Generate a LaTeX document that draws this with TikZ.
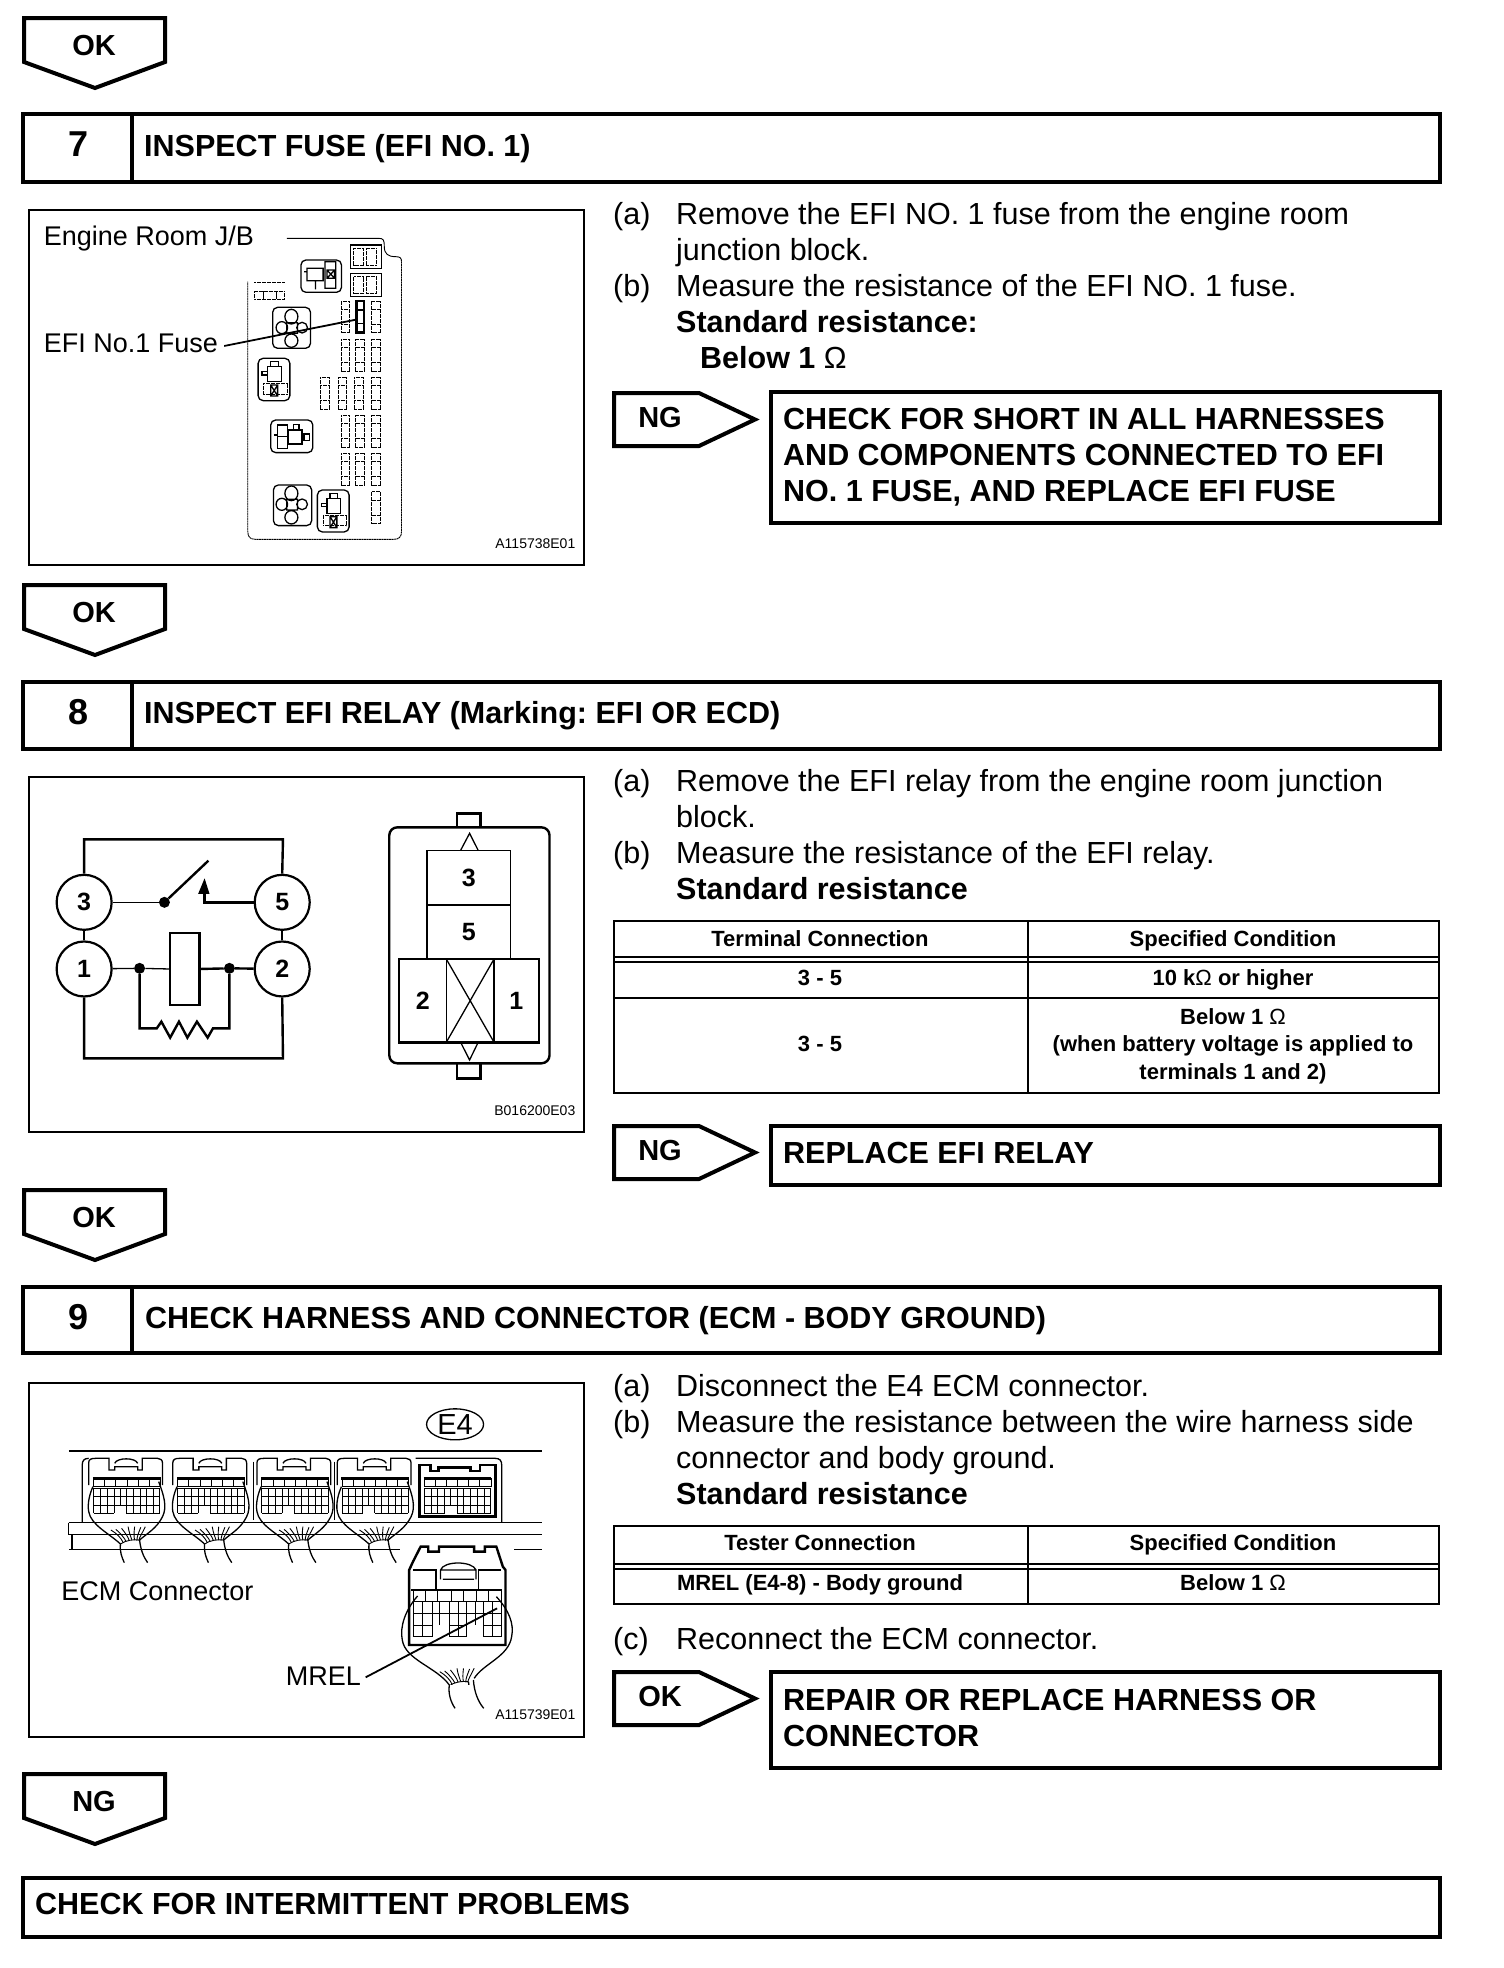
\documentclass[tikz,border=0pt]{standalone}
\usepackage{fontspec}
\setmainfont{Liberation Sans}
\usetikzlibrary{shapes.geometric}
\newcommand\bodyf{\frenchspacing\fontsize{30.5}{36.4}\selectfont}
\newcommand\headf{\frenchspacing\fontsize{30.5}{36.4}\selectfont\bfseries}
\newcommand\tabf{\frenchspacing\fontsize{22}{28}\selectfont\bfseries}
\newcommand\lblf{\frenchspacing\fontsize{27}{32}\selectfont}
\newcommand\codef{\fontsize{14}{15}\selectfont}
\newcommand\digf{\fontsize{25}{30}\selectfont\bfseries}
\tikzset{
 heavy/.style={line width=4pt,line join=miter},
 med/.style={line width=2.4pt},
 thinl/.style={line width=1.3pt},
 hair/.style={line width=.9pt},
 dz/.style={line width=.9pt,dash pattern=on 2pt off .5pt},
 leader/.style={line width=1.8pt},
 txt/.style={anchor=base west,inner sep=0pt,font=\bodyf},
 btxt/.style={anchor=base west,inner sep=0pt,font=\headf},
 hdr/.style={anchor=base west,inner sep=0pt,font=\headf},
 num/.style={anchor=base,inner sep=0pt,font=\fontsize{36}{40}\selectfont\bfseries},
 oklab/.style={anchor=base,inner sep=0pt,font=\fontsize{29}{32}\selectfont\bfseries},
 tabc/.style={anchor=base,inner sep=0pt,font=\tabf},
 lbl/.style={anchor=base west,inner sep=0pt,font=\lblf},
 code/.style={anchor=east,inner sep=0pt,font=\codef},
 term/.style={circle,draw,line width=2.2pt,minimum size=55pt,inner sep=0pt,font=\digf},
 dig/.style={inner sep=0pt,font=\digf},
 jdot/.style={circle,fill=black,minimum size=11pt,inner sep=0pt},
}
\newcommand\okdown[4]{%
 \draw[heavy] (24,#1)--(165,#1)--(165,#2)--(95,#3)--(24,#2)--cycle;
 \node[oklab] at (94,#1+37) {#4};}
\newcommand\okright[3]{%
 \draw[heavy] (614,#1)--(699,#1)--(755,{(#1+#2)/2})--(699,#2)--(614,#2)--cycle;
 \node[oklab] at (660,#1+34) {#3};}
\newcommand\fuseR[3][dz]{%
 \draw[#1] (#2,#3) rectangle ++(23,95);
 \draw[#1] (#2,#3+25) -- ++(23,0) (#2,#3+70) -- ++(23,0);}
\newcommand\ecmgrid{%
 \foreach \xa in {245,274,303,332,361,390}{\draw[hair] (\xa,325) rectangle ++(29,25);}
 \draw[med] (243,325)--(420,325);
 \draw[hair] (245,355)--(418,355) (245,380)--(418,380) (245,405)--(418,405);
 \draw[hair] (245,430)--(298,430) (330,430)--(418,430);
 \foreach \xa in {245,262,280,298,330,348,366,384,401,418}{\draw[hair] (\xa,355)--(\xa,430);}
 \foreach \xa in {314}{\draw[hair] (\xa,355)--(\xa,405);}
}
\newcommand\ecmfan[2]{%
 \begin{scope}[shift={(#1,#2)}]
 \draw[hair] (290,480) .. controls (305,490) and (318,505) .. (322,518);
 \draw[hair] (303,478) .. controls (315,490) and (325,503) .. (330,515);
 \draw[hair] (318,475) .. controls (328,490) and (335,500) .. (338,512);
 \draw[hair] (335,470) .. controls (338,490) and (342,500) .. (345,510);
 \draw[hair] (352,470) .. controls (350,490) and (350,500) .. (352,510);
 \draw[hair] (368,472) .. controls (362,490) and (358,500) .. (358,512);
 \draw[hair] (380,470) .. controls (372,490) and (365,500) .. (363,512);
 \draw[hair] (315,522) .. controls (330,510) and (350,508) .. (365,510);
 \draw[thinl] (315,522) .. controls (313,545) and (318,560) .. (325,578);
 \draw[thinl] (365,510) .. controls (368,540) and (375,560) .. (386,578);
 \end{scope}}
\newcommand\ecmmod[1]{%
 \begin{scope}[shift={(#1,0)}]
 \fill[white] (232,275) rectangle (425,450);
 \draw[thinl] (232,345) -- (232,278) .. controls (232,268) and (238,265) .. (250,265) -- (285,265) -- (285,300) -- (300,300) -- (300,290) -- (360,290) -- (360,300) -- (372,300) -- (372,265) -- (412,265) .. controls (420,265) and (425,270) .. (425,280) -- (425,345);
 \draw[thinl] (300,280) .. controls (305,262) and (355,262) .. (360,280);
 \draw[thinl] (243,350) .. controls (235,370) and (228,400) .. (232,425) .. controls (238,465) and (285,490) .. (315,522);
 \draw[thinl] (415,335) .. controls (428,375) and (438,410) .. (425,440) .. controls (410,475) and (385,490) .. (365,510);
 \ecmgrid
 \end{scope}}
\begin{document}
\begin{tikzpicture}[x=1pt,y=-1pt]
\useasboundingbox (0,0) rectangle (1504,1968);
\fill[white] (0,0) rectangle (1504,1968);
\okdown{18}{62}{88}{OK}
\okdown{585}{629}{655}{OK}
\okdown{1190}{1234}{1260}{OK}
\okdown{1774}{1818}{1844}{NG}
% title bars
\draw[heavy] (23,114) rectangle (1440,182);
\draw[heavy] (132,114)--(132,182);
\node[num] (n7) at (79,156) {7};
\node[hdr] (h7) at (144,156) {INSPECT FUSE (EFI NO. 1)};
\draw[heavy] (23,682) rectangle (1440,749);
\draw[heavy] (132,682)--(132,749);
\node[num] (n8) at (79,724) {8};
\node[hdr] (h8) at (144,723) {INSPECT EFI RELAY (Marking: EFI OR ECD)};
\draw[heavy] (23,1287) rectangle (1440,1353);
\draw[heavy] (132,1287)--(132,1353);
\node[num] (n9) at (79,1329) {9};
\node[hdr] (h9) at (145,1328) {CHECK HARNESS AND CONNECTOR (ECM - BODY GROUND)};
\draw[heavy] (23,1878) rectangle (1440,1937);
\node[hdr] (h10) at (35,1914) {CHECK FOR INTERMITTENT PROBLEMS};
% frames
\draw[med] (29,210) rectangle (584,565);
\draw[med] (29,777) rectangle (584,1132);
\draw[med] (29,1383) rectangle (584,1737);
% step 7 text
\node[txt] (a7) at (613,224) {(a)};
\node[txt] (at7) at (676,224) {Remove the EFI NO. 1 fuse from the engine room};
\node[txt] (at7b) at (676,260) {junction block.};
\node[txt] (b7) at (613,296) {(b)};
\node[txt] (bt7) at (676,296) {Measure the resistance of the EFI NO. 1 fuse.};
\node[btxt] (bt7b) at (676,332) {Standard resistance:};
\node[btxt] (bt7c) at (700,368) {Below 1 \textmd{Ω}};
\okright{393}{446}{NG}
\draw[heavy] (771,392) rectangle (1440,523);
\node[hdr] (r7) at (783,429) {CHECK FOR SHORT IN ALL HARNESSES};
\node[hdr] (r7b) at (783,465) {AND COMPONENTS CONNECTED TO EFI};
\node[hdr] (r7c) at (783,501) {NO. 1 FUSE, AND REPLACE EFI FUSE};
% step 8 text
\node[txt] (a8) at (613,791) {(a)};
\node[txt] (at8) at (676,791) {Remove the EFI relay from the engine room junction};
\node[txt] (at8b) at (676,827) {block.};
\node[txt] (b8) at (613,863) {(b)};
\node[txt] (bt8) at (676,863) {Measure the resistance of the EFI relay.};
\node[btxt] (bt8b) at (676,899) {Standard resistance};
\draw[med] (614,921) rectangle (1439,1093);
\draw[thinl] (1028,921)--(1028,1093);
\draw[med] (614,957)--(1439,957) (614,962)--(1439,962);
\draw[med] (614,998)--(1439,998);
\node[tabc] (t81) at (820,946) {Terminal Connection};
\node[tabc] (t82) at (1233,946) {Specified Condition};
\node[tabc] (t83) at (820,985) {3 - 5};
\node[tabc] (t84) at (1233,985) {10 k\textmd{Ω} or higher};
\node[tabc] (t85) at (820,1051) {3 - 5};
\node[tabc] (t86) at (1233,1024) {Below 1 \textmd{Ω}};
\node[tabc] (t87) at (1233,1051) {(when battery voltage is applied to};
\node[tabc] (t88) at (1233,1079) {terminals 1 and 2)};
\okright{1126}{1179}{NG}
\draw[heavy] (771,1126) rectangle (1440,1185);
\node[hdr] (r8) at (783,1163) {REPLACE EFI RELAY};
% step 9 text
\node[txt] (a9) at (613,1396) {(a)};
\node[txt] (at9) at (676,1396) {Disconnect the E4 ECM connector.};
\node[txt] (b9) at (613,1432) {(b)};
\node[txt] (bt9) at (676,1432) {Measure the resistance between the wire harness side};
\node[txt] (bt9b) at (676,1468) {connector and body ground.};
\node[btxt] (bt9c) at (676,1504) {Standard resistance};
\draw[med] (614,1526) rectangle (1439,1604);
\draw[thinl] (1028,1526)--(1028,1604);
\draw[med] (614,1564)--(1439,1564) (614,1569)--(1439,1569);
\node[tabc] (t91) at (820,1550) {Tester Connection};
\node[tabc] (t92) at (1233,1550) {Specified Condition};
\node[tabc] (t93) at (820,1590) {MREL (E4-8) - Body ground};
\node[tabc] (t94) at (1233,1590) {Below 1 \textmd{Ω}};
\node[txt] (c9) at (613,1649) {(c)};
\node[txt] (ct9) at (676,1649) {Reconnect the ECM connector.};
\okright{1672}{1725}{OK}
\draw[heavy] (771,1672) rectangle (1440,1768);
\node[hdr] (r9) at (783,1710) {REPAIR OR REPLACE HARNESS OR};
\node[hdr] (r9b) at (783,1746) {CONNECTOR};
% fuse diagram
\begin{scope}[shift={(0,190)},x=.3824pt,y=-.3333pt]
\node[lbl] (erjb) at (114,168) {Engine Room J/B};
\node[lbl] (efil) at (114,488) {EFI No.1 Fuse};
\node[code] (c7) at (1505,1060) {A115738E01};
\draw[hair] (750,145)--(990,145) .. controls (1003,145) and (1005,150) .. (1005,170) .. controls (1005,192) and (1015,200) .. (1035,200) .. controls (1047,200) and (1050,205) .. (1050,215);
\draw[dz] (1050,215)--(1050,1025) .. controls (1050,1042) and (1042,1048) .. (1030,1048) -- (668,1048) .. controls (655,1048) and (648,1042) .. (648,1025) -- (648,275);
\foreach \yy in {165,250}{
 \draw[thinl] (917,\yy) rectangle ++(80,70);
 \draw[dz] (925,\yy+10) rectangle ++(25,50);
 \draw[dz] (958,\yy+10) rectangle ++(27,50);}
\foreach \ax/\ay/\bx/\by in {787/210/893/307,713/352/812/475,675/505/758/632,708/690/818/788,715/885/815/1007,830/900/913/1026}{
 \draw[thinl,rounded corners=5pt] (\ax,\ay) rectangle (\bx,\by);}
\draw[thinl] (803,235) rectangle (845,272) (850,215) rectangle (878,295) (795,245)--(803,245) (825,272)--(825,298) (855,240) rectangle (875,265) (855,240)--(875,265) (875,240)--(855,265);
\foreach \dy in {0,530}{
 \draw[thinl] (762,380+\dy) ellipse (17 and 22) (737,413+\dy) ellipse (15 and 18) (790,413+\dy) ellipse (14 and 16) (750,398+\dy) rectangle (778,430+\dy) (762,452+\dy) ellipse (17 and 20);}
\foreach \sx/\sy in {0/0,155/395}{
 \begin{scope}[shift={(\sx,\sy)}]
 \draw[thinl] (700,530) rectangle (736,575) (708,515) rectangle (728,530) (685,545) rectangle (700,555);
 \draw[dz] (690,580) rectangle (752,612);
 \draw[thinl] (708,585) rectangle (726,618) (708,585)--(726,618) (726,585)--(708,618);
 \end{scope}}
\draw[thinl] (725,705) rectangle (752,740) (725,740) rectangle (752,776) (755,720) rectangle (790,762) (768,703) rectangle (782,720) (795,732) rectangle (810,752) (716,735)--(725,735);
\draw[dz] (665,278)--(745,278);
\draw[dz] (665,304) rectangle (745,327);
\draw[hair] (688,304)--(688,327) (722,304)--(722,327);
\foreach \fx in {892,930,972}{
 \foreach \fy in {448,676,790}{\fuseR{\fx}{\fy}}}
\fuseR{892}{333}\fuseR{972}{333}
\foreach \fx in {838,884,927,972}{\fuseR{\fx}{562}}
\fuseR{972}{905}
\draw[line width=2.4pt] (932,333) rectangle (952,428);
\draw[thinl] (932,360)--(952,360) (932,400)--(952,400);
\coordinate (fusept) at (935,388);
\draw[leader] (efil.base east)++(16,-20) -- (fusept);
\end{scope}
% relay diagram
\begin{scope}[shift={(0,770)},x=.3824pt,y=-.3333pt]
\node[term] (p3) at (220,397) {3};
\node[term] (p5) at (738,397) {5};
\node[term] (p1) at (220,597) {1};
\node[term] (p2) at (738,597) {2};
\node[jdot] (ds) at (430,397) {};
\node[jdot] (d1) at (365,595) {};
\node[jdot] (d2) at (600,595) {};
\node[draw,line width=2.2pt,minimum width=29.5pt,minimum height=72pt,inner sep=0pt] (coil) at (483,598) {};
\coordinate (swtip) at (545,272);
\coordinate (arrtop) at (535,325);
\coordinate (arrbot) at (535,397);
\coordinate (rl) at (365,775);
\coordinate (rr) at (600,775);
\draw[med] (p3) -- (p1);
\draw[med] (p5) -- (p2);
\draw[med] (p3.north) -- (220,208) -- (740,208) -- (p5.north);
\draw[med] (p1.south) -- (220,865) -- (740,865) -- (p2.south);
\draw[thinl] (p3) -- (ds);
\draw[med] (ds) -- (swtip);
\draw[med] (p5) -- (arrbot) -- (535,370);
\fill (518,372) -- (arrtop) -- (548,372) -- cycle;
\draw[thinl] (p1) -- (d1) -- (coil);
\draw[med] (coil) -- (d2) -- (p2);
\draw[med] (d1) -- (rl) -- (410,775) -- (422,755) -- (445,803) -- (468,755) -- (490,803) -- (515,755) -- (543,803) -- (557,775) -- (rr) -- (d2);
\draw[med,rounded corners=8pt] (1018,172) rectangle (1437,880);
\draw[med] (1195,172)--(1195,130)--(1257,130)--(1257,172);
\draw[med] (1195,880)--(1195,925)--(1257,925)--(1257,880);
\draw[thinl] (1205,240)--(1228,190)--(1250,240);
\draw[thinl] (1205,818)--(1228,870)--(1250,818);
\node[draw,thinl,minimum width=83.4pt,minimum height=54.3pt,inner sep=0pt,font=\digf] (c3) at (1226,323.5) {3};
\node[draw,thinl,minimum width=83.4pt,minimum height=53.3pt,inner sep=0pt,font=\digf] (c5) at (1226,485) {5};
\draw[med] (1043,567) rectangle (1410,817);
\draw[hair] (1167,567)--(1167,817);
\draw[med] (1292,567)--(1292,817);
\draw[thinl] (1167,567)--(1292,817) (1292,567)--(1167,817);
\node[dig] (c2) at (1106,692) {2};
\node[dig] (c1) at (1350,692) {1};
\node[code] (c8) at (1505,1022) {B016200E03};
\end{scope}
% ECM diagram
\begin{scope}[shift={(0,1370)},x=.3824pt,y=-.3333pt]
\draw[thinl] (180,243)--(1418,243);
\draw[thinl] (180,458)--(1418,458) (180,493)--(1418,493);
\draw[thinl] (180,538)--(1060,538) (1320,538)--(1418,538);
\draw[thinl] (180,458)--(180,495) (188,495)--(188,538);
\draw[thinl] (215,458)--(215,285) .. controls (215,272) and (220,265) .. (232,265);
\ecmmod{0}
\ecmmod{220}
\ecmmod{440}
\ecmmod{650}
\draw[thinl] (662,275)--(662,450) (875,275)--(875,450);
\foreach \dx/\dy in {0/0,220/0,440/0,650/0}{\ecmfan{\dx}{\dy}}
\draw[line width=2.6pt] (1097,440)--(1097,285)--(1125,285)--(1125,303)--(1147,303)--(1147,292)--(1230,292)--(1230,303)--(1255,303)--(1255,285)--(1295,285)--(1295,440)--cycle;
\draw[thinl] (1087,265)--(1295,265) .. controls (1307,265) and (1312,272) .. (1312,285) -- (1312,458);
\begin{scope}[shift={(865,0)}]\ecmgrid\end{scope}
\fill[white] (1045,510) rectangle (1345,1020);
\draw[med] (1070,825)--(1070,600)--(1080,575)--(1100,530)--(1120,530)--(1120,545)--(1148,545)--(1148,530)--(1240,530)--(1240,545)--(1268,545)--(1268,530)--(1298,530)--(1315,590)--(1322,600)--(1322,825)--cycle;
\draw[thinl] (1080,600)--(1140,600)--(1140,660) (1310,600)--(1252,600)--(1252,660);
\draw[thinl] (1152,628)--(1152,600) .. controls (1160,572) and (1235,572) .. (1245,600) -- (1245,628) (1152,600)--(1245,600) (1158,628)--(1240,628);
\draw[med] (1075,660)--(1312,660);
\foreach \xa in {1112,1145,1180,1212,1245,1278}{\draw[hair] (\xa,660)--(\xa,695);}
\draw[hair] (1080,660)--(1080,800) (1310,660)--(1310,800);
\draw[hair] (1080,695)--(1310,695) (1080,730)--(1310,730) (1080,765)--(1130,765) (1175,765)--(1220,765) (1265,765)--(1310,765) (1080,800)--(1130,800) (1175,800)--(1220,800) (1265,800)--(1310,800);
\foreach \xa in {1105,1130,1150,1175,1198,1220,1243,1265,1288}{\draw[hair] (\xa,695)--(\xa,765);}
\draw[hair] (1105,765)--(1105,800) (1130,765)--(1130,800) (1175,765)--(1175,800) (1198,765)--(1198,800) (1220,765)--(1220,800) (1265,765)--(1265,800) (1288,765)--(1288,800);
\draw[thinl] (1092,678) .. controls (1060,720) and (1045,770) .. (1052,810) .. controls (1060,870) and (1140,890) .. (1175,945);
\draw[thinl] (1298,680) .. controls (1330,720) and (1345,760) .. (1338,800) .. controls (1330,860) and (1265,880) .. (1240,925);
\ecmfan{860}{425}
\fill[white] (1165,945) rectangle (1275,1020);
\draw[thinl] (1175,945) .. controls (1172,970) and (1178,995) .. (1190,1015);
\draw[thinl] (1238,930) .. controls (1240,965) and (1250,995) .. (1265,1015);
\node[ellipse,draw,thinl,minimum width=57pt,minimum height=31pt,inner sep=0pt,font=\fontsize{29}{32}\selectfont] (e4) at (1190,163) {E4};
\node[lbl] (ecml) at (160,693) {ECM Connector};
\node[lbl] (mrel) at (747,948) {MREL};
\node[code] (c9c) at (1505,1035) {A115739E01};
\coordinate (mrelpt) at (1300,715);
\draw[leader] (mrel.base east)++(12,-26) -- (mrelpt);
\end{scope}
\end{tikzpicture}
\end{document}
